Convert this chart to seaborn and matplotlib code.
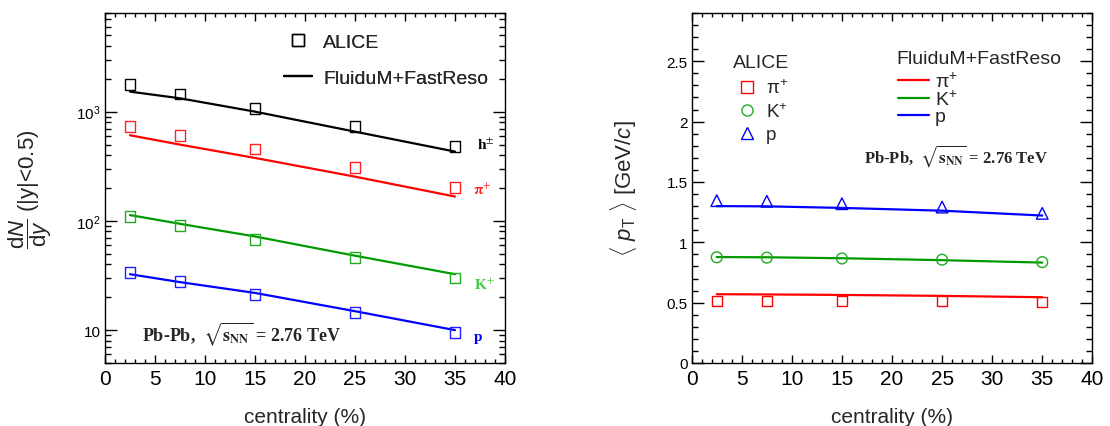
import numpy as np
import pandas as pd
import matplotlib
matplotlib.use("Agg")
import matplotlib.pyplot as plt
from matplotlib.lines import Line2D
from matplotlib.ticker import MultipleLocator, FixedLocator, FixedFormatter, LogLocator, NullFormatter
import seaborn as sns

# ---------------- data ----------------
centrality = [2.5, 7.5, 15, 25, 35]

# dN/dy (ALICE points)
alice_h = [1760, 1450, 1075, 730, 480]
alice_pi = [733, 606, 455, 307, 201]
alice_K = [109, 90, 68, 46, 30]
alice_p = [34, 28, 21, 14.5, 9.6]

# dN/dy (FluiduM+FastReso)
model_h = [1525, 1325, 1000, 656, 431]
model_pi = [608, 499, 377, 254, 167]
model_K = [113, 94, 72, 48, 32.5]
model_p = [32.5, 27.5, 21.9, 14.9, 10.0]

# <pT> (ALICE points)
mpt_alice_pi = [0.517, 0.517, 0.516, 0.511, 0.503]
mpt_alice_K = [0.876, 0.873, 0.866, 0.856, 0.836]
mpt_alice_p = [1.345, 1.340, 1.320, 1.292, 1.240]

# <pT> (FluiduM+FastReso)
mpt_model_pi = [0.570, 0.568, 0.564, 0.556, 0.545]
mpt_model_K = [0.878, 0.876, 0.868, 0.852, 0.832]
mpt_model_p = [1.300, 1.298, 1.285, 1.262, 1.222]

species_left = ["h", "pi", "K", "p"]
species_right = ["pi", "K", "p"]
end_labels = ["h$^{\\pm}$", "$\\mathbf{\\pi}^{+}$", "K$^{+}$", "p"]

line_colors = {"h": "black", "pi": "#ff0000", "K": "#009a00", "p": "#0000ff"}
marker_colors = {"h": "black", "pi": "#ff2020", "K": "#22aa22", "p": "#2020ff"}
label_colors = {"h": "black", "pi": "#ff2020", "K": "#44cc44", "p": "#0000ff"}

dndy = pd.DataFrame({
    "centrality": centrality * 4,
    "species": sum([[s] * 5 for s in species_left], []),
    "alice": alice_h + alice_pi + alice_K + alice_p,
    "model": model_h + model_pi + model_K + model_p,
})
mpt = pd.DataFrame({
    "centrality": centrality * 3,
    "species": sum([[s] * 5 for s in species_right], []),
    "alice": mpt_alice_pi + mpt_alice_K + mpt_alice_p,
    "model": mpt_model_pi + mpt_model_K + mpt_model_p,
})

# ---------------- style ----------------
sns.set_style("ticks")
plt.rcParams["font.family"] = ["Liberation Sans", "DejaVu Sans"]
plt.rcParams["mathtext.fontset"] = "custom"
plt.rcParams["mathtext.rm"] = "Liberation Sans"
plt.rcParams["mathtext.it"] = "Liberation Sans:italic"
plt.rcParams["mathtext.bf"] = "Liberation Sans:bold"
plt.rcParams["axes.linewidth"] = 1.0
plt.rcParams["axes.edgecolor"] = "black"

fig = plt.figure(figsize=(11.1, 4.27), dpi=100)
axL = fig.add_axes([105 / 1110, 63 / 427, 400 / 1110, 350 / 427])
axR = fig.add_axes([691.7 / 1110, 63 / 427, 400.6 / 1110, 350 / 427])


def style_ticks(ax):
    ax.tick_params(which="both", direction="in", top=True, right=True,
                   colors="black", width=1.0)
    ax.tick_params(axis="x", which="major", length=6, labelsize=15, pad=4)
    ax.tick_params(axis="x", which="minor", length=3)
    ax.tick_params(axis="y", which="major", length=8.5, labelsize=11, pad=3)
    ax.tick_params(axis="y", which="minor", length=4.3)
    ax.xaxis.set_major_locator(MultipleLocator(5))
    ax.xaxis.set_minor_locator(MultipleLocator(1))
    ax.set_xlim(0, 40)
    for sp in ax.spines.values():
        sp.set_visible(True)
        sp.set_color("black")


# ---------------- left panel ----------------
for s in species_left:
    d = dndy[dndy.species == s]
    sns.lineplot(data=d, x="centrality", y="model", color=line_colors[s],
                 lw=1.6, ax=axL, legend=False)
    sns.scatterplot(data=d, x="centrality", y="alice", marker="s", s=62,
                    color=marker_colors[s], ax=axL, legend=False, zorder=3)
    coll = axL.collections[-1]
    coll.set_facecolor("none")
    coll.set_edgecolor(marker_colors[s])
    coll.set_linewidth(1.0)

axL.set_yscale("log")
axL.set_ylim(5, 8000)
style_ticks(axL)
axL.yaxis.set_major_locator(FixedLocator([10, 100, 1000]))
axL.yaxis.set_major_formatter(FixedFormatter(["10", "$10^{2}$", "$10^{3}$"]))
axL.yaxis.set_minor_locator(LogLocator(base=10, subs=np.arange(2, 10)))
axL.yaxis.set_minor_formatter(NullFormatter())

axL.set_xlabel("centrality (%)", fontsize=15, labelpad=14)
axL.set_ylabel(r"$\dfrac{\mathrm{d}N}{\mathrm{d}y}$ (|y|<0.5)", fontsize=16, labelpad=16)

end_x = [37.2, 36.8, 36.9, 36.9]
end_y = [507, 196, 26.5, 8.8]
for s, lab, xx, yy in zip(species_left, end_labels, end_x, end_y):
    axL.text(xx, yy, lab, color=label_colors[s], fontsize=11, fontweight="bold",
             family="Liberation Serif", math_fontfamily="stix", va="center", ha="left")

axL.text(0.093, 0.085, r"Pb-Pb,  $\sqrt{\mathbf{s}_{\mathbf{NN}}}$ = 2.76 TeV",
         transform=axL.transAxes, fontsize=13, fontweight="bold",
         family="Liberation Serif", math_fontfamily="stix", va="center", ha="left")

hL = [Line2D([], [], marker="s", ls="none", mfc="none", mec="black", ms=8, mew=1.0),
      Line2D([], [], color="black", lw=1.6)]
legL = axL.legend(hL, ["ALICE", "FluiduM+FastReso"], loc="upper left",
                  bbox_to_anchor=(0.4475, 0.943), frameon=False, fontsize=14,
                  handlelength=1.45, handletextpad=0.55, labelspacing=0.95,
                  borderpad=0, borderaxespad=0)
axL.add_artist(legL)

# ---------------- right panel ----------------
mk = {"pi": ("s", 52), "K": ("o", 60), "p": ("^", 70)}
for s in species_right:
    d = mpt[mpt.species == s]
    sns.lineplot(data=d, x="centrality", y="model", color=line_colors[s],
                 lw=1.6, ax=axR, legend=False)
    sns.scatterplot(data=d, x="centrality", y="alice", marker=mk[s][0], s=mk[s][1],
                    color=marker_colors[s], ax=axR, legend=False, zorder=3)
    coll = axR.collections[-1]
    coll.set_facecolor("none")
    coll.set_edgecolor(line_colors[s] if s != "K" else "#22aa22")
    coll.set_linewidth(1.0)

axR.set_ylim(0, 2.9)
style_ticks(axR)
axR.yaxis.set_major_locator(MultipleLocator(0.5))
axR.yaxis.set_minor_locator(MultipleLocator(0.1))
axR.yaxis.set_major_formatter(matplotlib.ticker.FormatStrFormatter("%g"))
axR.set_xlabel("centrality (%)", fontsize=15, labelpad=14)
axR.set_ylabel(r"$\langle\ p_{\mathrm{T}}\ \rangle$ [GeV/$c$]", fontsize=16, labelpad=20)

axR.text(0.43, 0.594, r"Pb-Pb,  $\sqrt{\mathbf{s}_{\mathbf{NN}}}$ = 2.76 TeV",
         transform=axR.transAxes, fontsize=12, fontweight="bold",
         family="Liberation Serif", math_fontfamily="stix", va="center", ha="left")

leg_labels = ["π$^{+}$", "K$^{+}$", "p"]

axR.text(0.103, 0.86, "ALICE", transform=axR.transAxes, fontsize=14,
         va="center", ha="left")
hA = [Line2D([], [], marker=mk[s][0], ls="none", mfc="none",
             mec=(line_colors[s] if s != "K" else "#22aa22"), ms=8, mew=1.0)
      for s in species_right]
legA = axR.legend(hA, leg_labels, loc="upper left",
                  bbox_to_anchor=(0.1035, 0.813), frameon=False, fontsize=13.5,
                  handlelength=1.5, handletextpad=0.25, labelspacing=0.27,
                  borderpad=0, borderaxespad=0)
axR.add_artist(legA)

axR.text(0.512, 0.87, "FluiduM+FastReso", transform=axR.transAxes, fontsize=14,
         va="center", ha="left")
hM = [Line2D([], [], color=line_colors[s], lw=1.6) for s in species_right]
legM = axR.legend(hM, leg_labels, loc="upper left",
                  bbox_to_anchor=(0.515, 0.834), frameon=False, fontsize=14,
                  handlelength=1.6, handletextpad=0.3, labelspacing=-0.05,
                  borderpad=0, borderaxespad=0)

fig.savefig("out.png", dpi=100)
